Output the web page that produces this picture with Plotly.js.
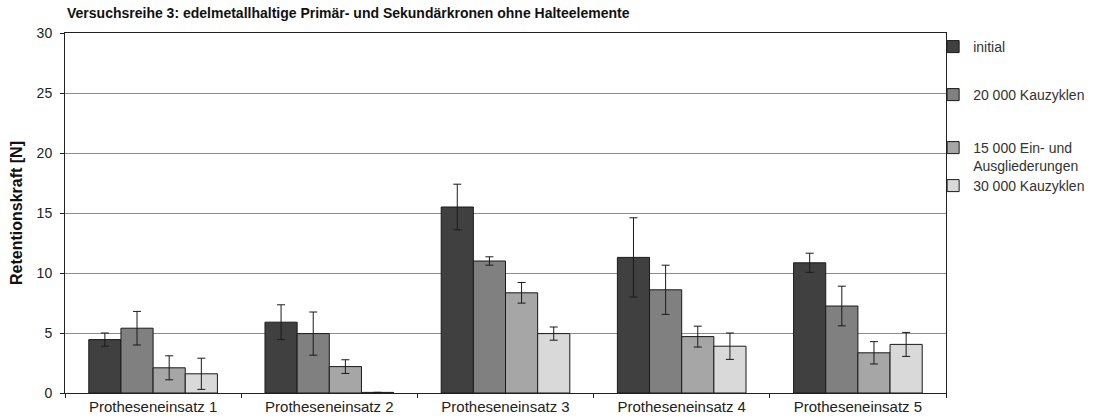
<!DOCTYPE html>
<html>
<head>
<meta charset="utf-8">
<script src="https://cdn.plot.ly/plotly-3.0.1.min.js"></script>
<style>html,body{margin:0;padding:0;background:#fff;}#chart{width:1102px;height:420px;}</style>
</head>
<body>
<div id="chart"></div>
<script>
const categories = ['Protheseneinsatz 1', 'Protheseneinsatz 2', 'Protheseneinsatz 3', 'Protheseneinsatz 4', 'Protheseneinsatz 5'];
const seriesNames = ['initial', '20 000 Kauzyklen', '15 000 Ein- und<br>Ausgliederungen', '30 000 Kauzyklen'];
const initial = [4.45, 5.9, 15.5, 11.3, 10.85];
const initialErr = [0.55, 1.45, 1.9, 3.3, 0.8];
const kau20000 = [5.4, 4.95, 11.0, 8.6, 7.25];
const kau20000Err = [1.4, 1.8, 0.35, 2.05, 1.65];
const ein15000 = [2.1, 2.2, 8.35, 4.7, 3.35];
const ein15000Err = [1.0, 0.57, 0.86, 0.87, 0.93];
const kau30000 = [1.6, 0.05, 4.95, 3.9, 4.05];
const kau30000Err = [1.3, null, 0.55, 1.1, 1.0];
const yTicks = [0, 5, 10, 15, 20, 25, 30];

const colors = ['#404040', '#808080', '#a6a6a6', '#d9d9d9'];
const values = [initial, kau20000, ein15000, kau30000];
const errs = [initialErr, kau20000Err, ein15000Err, kau30000Err];
const legendIds = ['legend', 'legend2', 'legend3', 'legend4'];

const FONT = 'Arial, "Liberation Sans", sans-serif';

const traces = values.map((v, i) => ({
  type: 'bar',
  name: seriesNames[i],
  x: categories,
  y: v,
  legend: legendIds[i],
  marker: {color: colors[i], line: {color: '#1a1a1a', width: 1}},
  error_y: {type: 'data', array: errs[i], visible: true, color: '#1a1a1a', thickness: 1, width: 4}
}));

const plotTop = 33, plotBottom = 393;
function py(p) { return (plotBottom - p) / (plotBottom - plotTop); }
const legX = (942 - 65) / 890;
const legendBase = {x: legX, xanchor: 'left', yanchor: 'middle', bgcolor: 'rgba(0,0,0,0)', borderwidth: 0,
  font: {family: FONT, size: 14, color: '#333'}, itemclick: false};

const layout = {
  width: 1102, height: 420,
  margin: {l: 65, r: 147, t: 33, b: 27},
  paper_bgcolor: '#fff', plot_bgcolor: '#fff',
  font: {family: FONT, color: '#222'},
  title: {text: '<b>Versuchsreihe 3: edelmetallhaltige Primär- und Sekundärkronen ohne Halteelemente</b>',
    xref: 'container', yref: 'container', x: 67 / 1102, xanchor: 'left', y: 1 - 13 / 420, yanchor: 'middle',
    font: {family: FONT, size: 14, color: '#111'}},
  barmode: 'group', bargap: 0.27, bargroupgap: 0,
  showlegend: true,
  legend: Object.assign({}, legendBase, {y: py(47)}),
  legend2: Object.assign({}, legendBase, {y: py(95)}),
  legend3: Object.assign({}, legendBase, {y: py(132), yanchor: 'top', valign: 'top'}),
  legend4: Object.assign({}, legendBase, {y: py(186)}),
  xaxis: {type: 'category', tickson: 'boundaries', ticks: 'outside', ticklen: 4, tickcolor: '#222',
    showline: true, linecolor: '#222', linewidth: 1, mirror: true, showgrid: false,
    tickfont: {family: FONT, size: 15, color: '#222'}},
  yaxis: {range: [0, 30], tickvals: yTicks, ticktext: yTicks.map(String), ticks: 'outside', ticklen: 4, tickcolor: '#222',
    ticklabelstandoff: 5,
    showline: true, linecolor: '#222', linewidth: 1, mirror: true,
    showgrid: true, gridcolor: '#8c8c8c', gridwidth: 1, zeroline: false,
    tickfont: {family: FONT, size: 14, color: '#222'},
    title: {text: '<b>Retentionskraft [N]</b>', standoff: 10, font: {family: FONT, size: 16, color: '#111'}}}
};

Plotly.newPlot('chart', traces, layout, {staticPlot: true, displayModeBar: false});
</script>
</body>
</html>
